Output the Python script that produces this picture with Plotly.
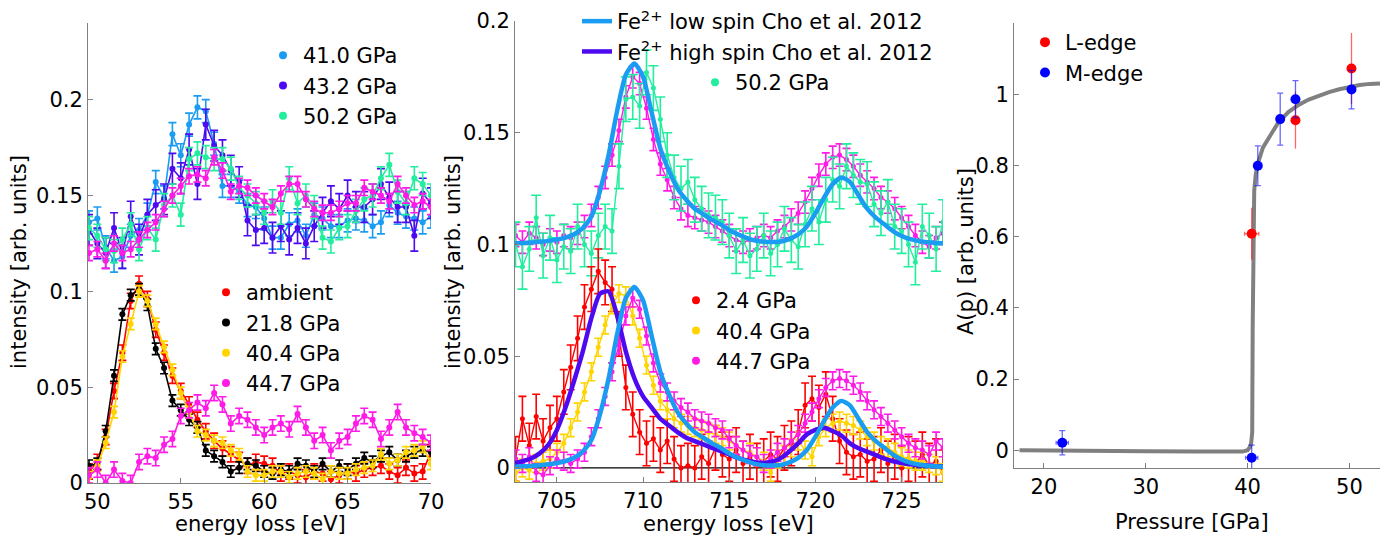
import numpy as np
import plotly.graph_objects as go

W, H = 1387, 542
FONT = "DejaVu Sans, Liberation Sans, Arial, sans-serif"
FS = 21

# ---------------- Panel 1: Fe M-edge spectra ----------------
m_energy = np.round(np.arange(49.5, 70.01, 0.5), 2)

m_ambient = [0.006, 0.011, 0.024, 0.048, 0.068, 0.095, 0.104, 0.096, 0.080, 0.068, 0.056, 0.048, 0.041, 0.033,
             0.027, 0.022, 0.018, 0.015, 0.012, 0.009, 0.011,
             0.010, 0.009, 0.005, 0.006, 0.004, 0.003, 0.006, 0.005, 0.002, 0.004, 0.006, 0.005, 0.007, 0.008,
             0.009, 0.006, 0.004, 0.008, 0.005, 0.006, 0.016]
m_21_8 = [0.009, 0.010, 0.027, 0.056, 0.088, 0.098, 0.101, 0.093, 0.070, 0.060, 0.043, 0.038, 0.033, 0.029,
          0.017, 0.014, 0.011, 0.006, 0.008, 0.010, 0.009,
          0.006, 0.005, 0.007, 0.006, 0.010, 0.009, 0.006, 0.010, 0.006, 0.009, 0.007, 0.010, 0.013, 0.011,
          0.014, 0.016, 0.012, 0.014, 0.016, 0.017, 0.016]
m_40_4 = [0.003, 0.009, 0.021, 0.037, 0.066, 0.083, 0.100, 0.095, 0.083, 0.071, 0.059, 0.047, 0.037, 0.027,
          0.025, 0.022, 0.021, 0.017, 0.015, 0.006, 0.004,
          0.004, 0.006, 0.006, 0.003, 0.005, 0.006, 0.005, 0.002, 0.006, 0.005, 0.005, 0.007, 0.008, 0.009,
          0.015, 0.010, 0.012, 0.016, 0.017, 0.019, 0.010]
m_44_7 = [0.004, 0.007, 0.000, 0.007, 0.001, 0.000, 0.011, 0.014, 0.013, 0.020, 0.023, 0.035, 0.038, 0.042,
          0.039, 0.047, 0.041, 0.031, 0.035, 0.033,
          0.029, 0.025, 0.029, 0.031, 0.028, 0.036, 0.029, 0.022, 0.025, 0.017, 0.022, 0.024, 0.031, 0.035,
          0.033, 0.023, 0.029, 0.037, 0.029, 0.026, 0.024, 0.021]
# upper (offset) group
m_41_0 = [0.136, 0.138, 0.123, 0.116, 0.118, 0.129, 0.132, 0.140, 0.157, 0.149, 0.182, 0.171, 0.187, 0.196,
          0.194, 0.177, 0.155, 0.155, 0.152, 0.145, 0.144,
          0.138, 0.128, 0.128, 0.135, 0.137, 0.129, 0.140, 0.138, 0.134, 0.134, 0.137, 0.138, 0.137, 0.134,
          0.136, 0.145, 0.141, 0.139, 0.138, 0.136, 0.139]
m_43_2 = [0.132, 0.125, 0.120, 0.133, 0.120, 0.139, 0.127, 0.140, 0.145, 0.148, 0.164, 0.159, 0.174, 0.156,
          0.187, 0.176, 0.171, 0.163, 0.157, 0.137, 0.132,
          0.133, 0.128, 0.134, 0.127, 0.133, 0.125, 0.134, 0.141, 0.147, 0.143, 0.150, 0.144, 0.144, 0.148,
          0.156, 0.149, 0.144, 0.144, 0.129, 0.151, 0.146]
m_50_2 = [0.133, 0.129, 0.122, 0.121, 0.127, 0.135, 0.122, 0.133, 0.127, 0.145, 0.150, 0.140, 0.169, 0.172,
          0.170, 0.169, 0.169, 0.164, 0.154, 0.150, 0.146,
          0.141, 0.147, 0.141, 0.159, 0.146, 0.150, 0.144, 0.128, 0.126, 0.133, 0.134, 0.142, 0.148, 0.150,
          0.159, 0.166, 0.152, 0.146, 0.159, 0.156, 0.150]
m_44_7_up = [0.120, 0.122, 0.116, 0.125, 0.120, 0.122, 0.127, 0.132, 0.136, 0.143, 0.150, 0.155, 0.160, 0.161,
             0.159, 0.170, 0.163, 0.152, 0.155, 0.154, 0.150,
             0.147, 0.144, 0.151, 0.156, 0.156, 0.148, 0.143, 0.141, 0.141, 0.143, 0.146, 0.146, 0.154, 0.152,
             0.150, 0.147, 0.156, 0.150, 0.145, 0.147, 0.144]
m_err = {"ambient": 0.004, "21.8": 0.003, "40.4": 0.003, "44.7": 0.004,
         "41.0": 0.006, "43.2": 0.008, "50.2": 0.006, "44.7up": 0.004}

# ---------------- Panel 2: Fe L-edge spectra ----------------
l_energy = np.round(np.arange(702.6, 727.41, 0.4), 2)

l_2_4 = [0.004, 0.022, 0.010, 0.023, 0.012, 0.018, 0.022, 0.034, 0.045, 0.058, 0.072, 0.080, 0.088, 0.083,
         0.080, 0.060, 0.036, 0.024, 0.016, 0.011, 0.013, 0.008, 0.012, 0.004, 0.000, 0.001, 0.000, 0.005,
         0.002, 0.009, 0.006, 0.004, 0.008, 0.002, 0.005, 0.001, 0.003, 0.006, 0.004, 0.009, 0.011, 0.016,
         0.028, 0.031, 0.027, 0.033, 0.022, 0.012, 0.007, 0.005, 0.006, 0.003, 0.004, 0.008, 0.002, 0.005,
         0.000, 0.004, 0.002, 0.006, 0.001, 0.003, -0.002]
l_40_4 = [-0.002, 0.000, -0.001, 0.002, 0.003, 0.004, 0.007, 0.011, 0.018, 0.025, 0.034, 0.043, 0.054, 0.064,
          0.073, 0.078, 0.077, 0.068, 0.058, 0.046, 0.037, 0.030, 0.026, 0.022, 0.020, 0.019, 0.018, 0.017,
          0.016, 0.015, 0.014, 0.012, 0.010, 0.008, 0.007, 0.005, 0.003, -0.002, 0.004, 0.006, 0.009, 0.012,
          0.008, 0.005, 0.014, 0.018, 0.020, 0.021, 0.020, 0.019, 0.017, 0.014, 0.012, 0.010, 0.009, 0.007,
          0.005, 0.004, 0.003, 0.003, 0.002, 0.001, -0.002]
l_44_7 = [0.004, 0.002, 0.005, -0.002, -0.003, 0.001, 0.004, 0.003, 0.002, 0.004, 0.007, 0.014, 0.022, 0.032,
          0.043, 0.055, 0.068, 0.076, 0.071, 0.059, 0.047, 0.038, 0.034, 0.030, 0.027, 0.025, 0.022, 0.021,
          0.020, 0.018, 0.017, 0.013, 0.010, 0.008, 0.006, 0.005, 0.002, 0.004, 0.007, 0.009, 0.012, 0.015,
          0.020, 0.025, 0.031, 0.036, 0.039, 0.040, 0.039, 0.037, 0.034, 0.030, 0.026, 0.023, 0.020, 0.017,
          0.014, 0.011, 0.009, 0.008, 0.006, 0.012, 0.009]
l_44_7_up = [0.104, 0.101, 0.105, 0.103, 0.100, 0.102, 0.101, 0.104, 0.103, 0.105, 0.108, 0.113, 0.121, 0.130,
             0.140, 0.151, 0.166, 0.175, 0.172, 0.161, 0.147, 0.136, 0.129, 0.121, 0.116, 0.113, 0.112, 0.111,
             0.110, 0.108, 0.106, 0.104, 0.102, 0.101, 0.102, 0.103, 0.104, 0.103, 0.106, 0.108, 0.111, 0.114,
             0.119, 0.125, 0.131, 0.136, 0.139, 0.140, 0.138, 0.135, 0.131, 0.128, 0.125, 0.121, 0.119, 0.116,
             0.112, 0.108, 0.104, 0.101, 0.099, 0.103, 0.105]
l_50_2 = [0.100, 0.090, 0.098, 0.112, 0.095, 0.103, 0.093, 0.099, 0.097, 0.108, 0.100, 0.096, 0.104, 0.108,
          0.106, 0.135, 0.165, 0.166, 0.162, 0.177, 0.170, 0.156, 0.140, 0.130, 0.125, 0.128, 0.120, 0.116,
          0.113, 0.112, 0.110, 0.104, 0.097, 0.102, 0.095, 0.098, 0.104, 0.096, 0.100, 0.107, 0.102, 0.099,
          0.109, 0.116, 0.110, 0.120, 0.129, 0.126, 0.135, 0.131, 0.128, 0.127, 0.118, 0.114, 0.119, 0.108,
          0.106, 0.100, 0.092, 0.108, 0.104, 0.098, 0.110]
l_err = {"2.4": 0.010, "40.4": 0.004, "44.7": 0.004, "44.7up": 0.005, "50.2": 0.010}

# Reference spectra (Cho et al. 2012)
ref_energy = np.round(np.arange(702.5, 727.51, 0.5), 2)
ref_low_spin = [0.0005, 0.0007, 0.0009, 0.0012, 0.0016, 0.0022, 0.0031, 0.0046, 0.0073, 0.0125,
                0.024, 0.040, 0.060, 0.076, 0.081, 0.075, 0.059, 0.043, 0.033, 0.025,
                0.020, 0.016, 0.0135, 0.011, 0.009, 0.0065, 0.0045, 0.003, 0.0018, 0.0012,
                0.0011, 0.0013, 0.0025, 0.0045, 0.008, 0.014, 0.021, 0.027, 0.030, 0.028,
                0.022, 0.016, 0.012, 0.009, 0.006, 0.0038, 0.0024, 0.0015, 0.001, 0.0007, 0.0005]
ref_high_spin = [0.002, 0.003, 0.0042, 0.0065, 0.0103, 0.017, 0.027, 0.039, 0.052, 0.067,
                 0.078, 0.079, 0.068, 0.052, 0.040, 0.032, 0.027, 0.022, 0.019, 0.016,
                 0.0135, 0.012, 0.0105, 0.009, 0.0075, 0.006, 0.0045, 0.0033, 0.0025, 0.0022,
                 0.0028, 0.0045, 0.0075, 0.011, 0.015, 0.017, 0.018, 0.0165, 0.0145, 0.011,
                 0.0088, 0.0073, 0.0057, 0.0042, 0.003, 0.0022, 0.0016, 0.0012, 0.001, 0.0008, 0.0007]
upper_offset = 0.1

# ---------------- Panel 3: A(p) ----------------
L_p = [40.4, 44.7, 50.2]
L_a = [0.608, 0.927, 1.072]
L_aerr = [0.073, 0.08, 0.1]
L_perr = [0.7, 0.0, 0.0]
M_p = [21.8, 40.4, 41.0, 43.2, 44.7, 50.2]
M_a = [0.021, -0.021, 0.799, 0.930, 0.986, 1.013]
M_aerr = [0.034, 0.035, 0.056, 0.073, 0.052, 0.054]
M_perr = [0.6, 0.6, 0.0, 0.0, 0.0, 0.0]
fit_p = [17.6, 20, 25, 30, 35, 38, 39, 39.5, 40, 40.2, 40.35, 40.45, 40.5, 40.55, 40.65, 40.8, 41, 41.5, 42,
         43, 44, 45, 46, 47, 48, 49, 50, 51, 52, 53]
fit_a = [0.0, -0.001, -0.002, -0.003, -0.004, -0.005, -0.006, -0.004, 0.0, 0.008, 0.02, 0.05, 0.35, 0.66,
         0.73, 0.775, 0.805, 0.85, 0.875, 0.92, 0.95, 0.97, 0.985, 0.997, 1.006, 1.014, 1.021, 1.026, 1.029, 1.03]

C_BLUE = "#1a9cf2"
C_VIOLET = "#4d0af0"
C_MINT = "#22ee9e"
C_MAG = "#ff1ae6"
C_RED = "#ff0000"
C_BLACK = "#000000"
C_YELLOW = "#ffd400"
C_GRAY = "#808080"

fig = go.Figure()


def spec(x, y, err, color, xa, ya, msize=6, lw=1.6, cap=4):
    fig.add_trace(go.Scatter(
        x=x, y=y, mode="lines+markers", xaxis=xa, yaxis=ya, showlegend=False,
        line=dict(color=color, width=lw), marker=dict(color=color, size=msize),
        error_y=dict(type="constant", value=err, color=color, thickness=1.6, width=cap)))


def legend_marker(name, color, legend, xa, ya, size=8):
    fig.add_trace(go.Scatter(
        x=[None], y=[None], mode="markers", name=name, legend=legend, xaxis=xa, yaxis=ya,
        marker=dict(color=color, size=size)))


# Panel 1 traces
spec(m_energy, m_41_0, m_err["41.0"], C_BLUE, "x", "y")
spec(m_energy, m_43_2, m_err["43.2"], C_VIOLET, "x", "y")
spec(m_energy, m_50_2, m_err["50.2"], C_MINT, "x", "y")
spec(m_energy, m_44_7_up, m_err["44.7up"], C_MAG, "x", "y")
spec(m_energy, m_ambient, m_err["ambient"], C_RED, "x", "y")
spec(m_energy, m_21_8, m_err["21.8"], C_BLACK, "x", "y")
spec(m_energy, m_40_4, m_err["40.4"], C_YELLOW, "x", "y")
spec(m_energy, m_44_7, m_err["44.7"], C_MAG, "x", "y")
legend_marker("41.0 GPa", C_BLUE, "legend", "x", "y")
legend_marker("43.2 GPa", C_VIOLET, "legend", "x", "y")
legend_marker("50.2 GPa", C_MINT, "legend", "x", "y")
legend_marker("ambient", C_RED, "legend2", "x", "y")
legend_marker("21.8 GPa", C_BLACK, "legend2", "x", "y")
legend_marker("40.4 GPa", C_YELLOW, "legend2", "x", "y")
legend_marker("44.7 GPa", C_MAG, "legend2", "x", "y")

# Panel 2 traces
spec(l_energy, l_44_7_up, l_err["44.7up"], C_MAG, "x2", "y2", msize=5, lw=1.4, cap=4)
spec(l_energy, l_50_2, l_err["50.2"], C_MINT, "x2", "y2", msize=5, lw=1.4, cap=5)
spec(l_energy, l_2_4, l_err["2.4"], C_RED, "x2", "y2", msize=5, lw=1.4, cap=4)
spec(l_energy, l_40_4, l_err["40.4"], C_YELLOW, "x2", "y2", msize=5, lw=1.4, cap=4)
spec(l_energy, l_44_7, l_err["44.7"], C_MAG, "x2", "y2", msize=5, lw=1.4, cap=4)
fig.add_trace(go.Scatter(x=ref_energy, y=[v + upper_offset for v in ref_low_spin], mode="lines",
                         xaxis="x2", yaxis="y2", showlegend=False,
                         line=dict(color=C_BLUE, width=4.5, shape="spline", smoothing=0.6)))
fig.add_trace(go.Scatter(x=ref_energy, y=ref_high_spin, mode="lines", xaxis="x2", yaxis="y2",
                         name="Fe<sup>2+</sup> high spin Cho et al. 2012", legend="legend3",
                         line=dict(color=C_VIOLET, width=4.5, shape="spline", smoothing=0.6)))
fig.add_trace(go.Scatter(x=ref_energy, y=ref_low_spin, mode="lines", xaxis="x2", yaxis="y2",
                         name="Fe<sup>2+</sup> low spin Cho et al. 2012", legend="legend3",
                         line=dict(color=C_BLUE, width=4.5, shape="spline", smoothing=0.6)))
legend_marker("50.2 GPa", C_MINT, "legend6", "x2", "y2")
legend_marker("2.4 GPa", C_RED, "legend4", "x2", "y2")
legend_marker("40.4 GPa", C_YELLOW, "legend4", "x2", "y2")
legend_marker("44.7 GPa", C_MAG, "legend4", "x2", "y2")

# Panel 3 traces
fig.add_trace(go.Scatter(x=fit_p, y=fit_a, mode="lines", xaxis="x3", yaxis="y3", showlegend=False,
                         line=dict(color=C_GRAY, width=4)))
fig.add_trace(go.Scatter(x=L_p, y=L_a, mode="markers", xaxis="x3", yaxis="y3", name="L-edge",
                         legend="legend5", marker=dict(color=C_RED, size=10),
                         error_y=dict(type="data", array=L_aerr, color="rgba(255,0,0,0.6)", thickness=1.3, width=0),
                         error_x=dict(type="data", array=L_perr, color="rgba(255,0,0,0.6)", thickness=1.3, width=2)))
fig.add_trace(go.Scatter(x=M_p, y=M_a, mode="markers", xaxis="x3", yaxis="y3", name="M-edge",
                         legend="legend5", marker=dict(color="#0000ff", size=10),
                         error_y=dict(type="data", array=M_aerr, color="rgba(0,0,255,0.6)", thickness=1.3, width=3),
                         error_x=dict(type="data", array=M_perr, color="rgba(0,0,255,0.6)", thickness=1.3, width=2)))

# baseline at zero in panel 2
fig.add_shape(type="line", xref="x2 domain", yref="y2", x0=0, x1=1, y0=0, y1=0,
              line=dict(color="black", width=1.2), layer="below")


def px(v):
    return v / W


def py(v):
    return 1 - v / H


axis_common = dict(showline=True, linecolor=C_GRAY, linewidth=1, ticks="inside", ticklen=5,
                   tickcolor=C_GRAY, showgrid=False, zeroline=False, mirror=False, automargin=False,
                   tickfont=dict(family=FONT, size=FS, color="black"))

fig.update_layout(
    width=W, height=H, margin=dict(l=0, r=0, t=0, b=0, autoexpand=False),
    paper_bgcolor="white", plot_bgcolor="white",
    font=dict(family=FONT, size=FS, color="black"),
    xaxis=dict(domain=[px(88), px(431)], range=[49.44, 70], tickvals=[50, 55, 60, 65, 70], anchor="y",
               **axis_common),
    yaxis=dict(domain=[py(483), py(23)], range=[0, 0.24], tickvals=[0, 0.05, 0.1, 0.15, 0.2],
               ticktext=["0", "0.05", "0.1", "0.15", "0.2"], anchor="x", **axis_common),
    xaxis2=dict(domain=[px(515), px(943)], range=[702.57, 727.4], tickvals=[705, 710, 715, 720, 725],
                anchor="y2", **axis_common),
    yaxis2=dict(domain=[py(482), py(21)], range=[-0.0063, 0.2], tickvals=[0, 0.05, 0.1, 0.15, 0.2],
                ticktext=["0", "0.05", "0.1", "0.15", "0.2"], anchor="x2", **axis_common),
    xaxis3=dict(domain=[px(1014), px(1380)], range=[17.06, 53], tickvals=[20, 30, 40, 50], anchor="y3",
                **axis_common),
    yaxis3=dict(domain=[py(468), py(23)], range=[-0.05, 1.2], tickvals=[0, 0.2, 0.4, 0.6, 0.8, 1],
                ticktext=["0", "0.2", "0.4", "0.6", "0.8", "1"], anchor="x3", **axis_common),
)

leg_common = dict(bgcolor="rgba(0,0,0,0)", borderwidth=0, xanchor="left", yanchor="top",
                  font=dict(family=FONT, size=FS, color="black"), tracegroupgap=0, itemwidth=30,
                  traceorder="normal")
fig.update_layout(
    legend=dict(x=px(263), y=py(35), **leg_common),
    legend2=dict(x=px(206), y=py(272), **leg_common),
    legend3=dict(x=px(577), y=py(1), **leg_common),
    legend4=dict(x=px(676), y=py(280), **leg_common),
    legend5=dict(x=px(1025), y=py(22), **leg_common),
    legend6=dict(x=px(695), y=py(62), **leg_common),
)
fig.update_layout(legend3=dict(traceorder="reversed"))

annots = [
    dict(text="energy loss [eV]", x=px(260), y=py(524)),
    dict(text="energy loss [eV]", x=px(728), y=py(524)),
    dict(text="Pressure [GPa]", x=px(1192), y=py(522)),
    dict(text="intensity [arb. units]", x=px(19), y=py(262), textangle=-90),
    dict(text="intensity [arb. units]", x=px(453), y=py(262), textangle=-90),
    dict(text="A(p) [arb. units]", x=px(966), y=py(252), textangle=-90),
]
for a in annots:
    fig.add_annotation(xref="paper", yref="paper", showarrow=False, xanchor="center", yanchor="middle",
                       font=dict(family=FONT, size=FS, color="black"), **a)

fig.write_html("out.html", config={"displayModeBar": False},
               post_script="document.body.style.margin='0px';")
